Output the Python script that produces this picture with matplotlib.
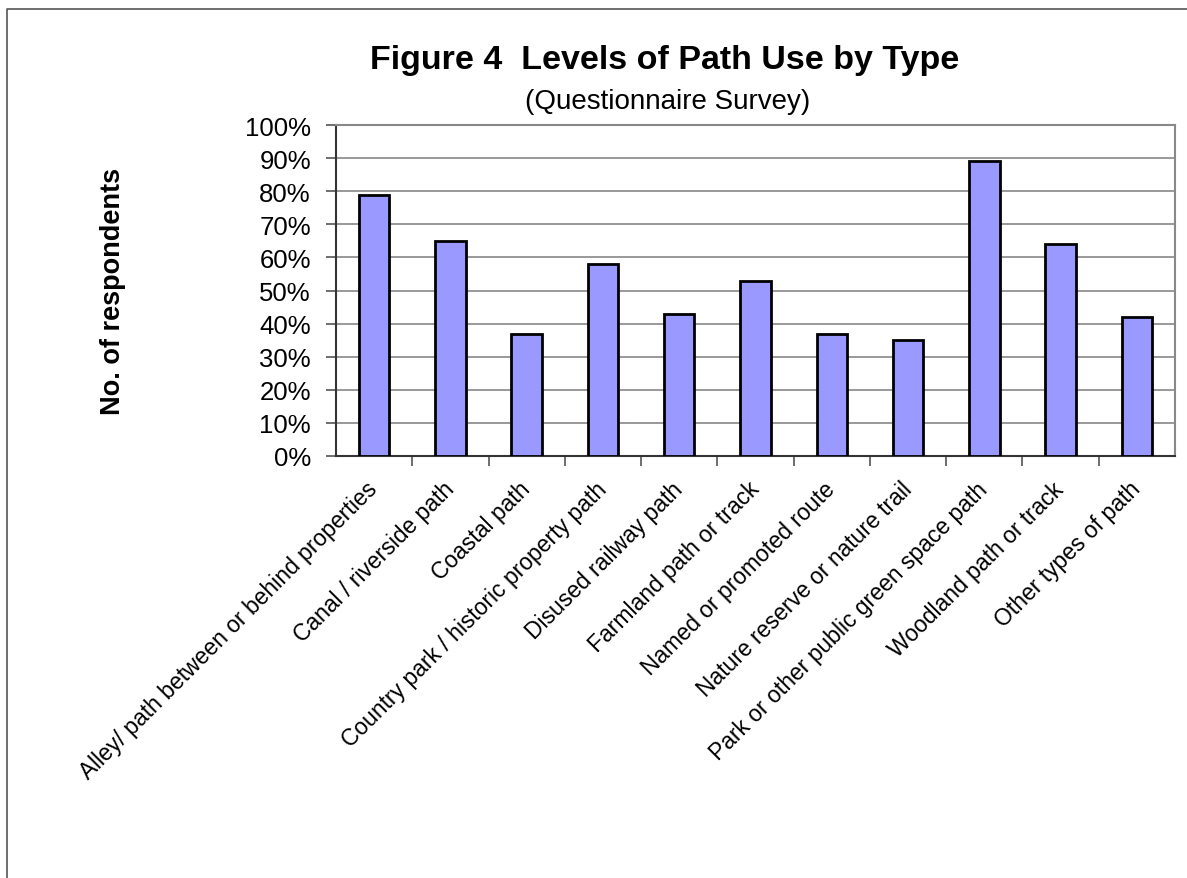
import matplotlib
matplotlib.use("Agg")
import matplotlib.pyplot as plt
from matplotlib.lines import Line2D

plt.rcParams['font.family'] = ['Liberation Sans', 'DejaVu Sans']

path_types = [
    "Alley/ path between or behind properties",
    "Canal / riverside path",
    "Coastal path",
    "Country park / historic property path",
    "Disused railway path",
    "Farmland path or track",
    "Named or promoted route",
    "Nature reserve or nature trail",
    "Park or other public green space path",
    "Woodland path or track",
    "Other types of path",
]
use_pct = [79, 65, 37, 58, 43, 53, 37, 35, 89, 64, 42]
y_ticks = list(range(0, 101, 10))
y_tick_labels = [f"{v}%" for v in y_ticks]

W, H = 1187, 879
fig = plt.figure(figsize=(W / 100, H / 100), dpi=100)
ax = fig.add_axes([336 / W, 1 - 457 / H, (1175 - 336) / W, (457 - 126) / H])

x = range(len(path_types))
ax.bar(x, use_pct, width=0.4, color="#9999ff", edgecolor="black", linewidth=2, zorder=3)

ax.set_xlim(-0.5, len(path_types) - 0.5)
ax.set_ylim(0, 100)
ax.set_yticks(y_ticks)
ax.set_yticklabels(y_tick_labels, fontsize=18.5)
ax.yaxis.grid(True, color="#888888", linewidth=1.2, zorder=0)

# tick marks sit between the categories, labels at the bar centres
ax.set_xticks([i + 0.5 for i in range(len(path_types) - 1)])
ax.set_xticklabels([])
ax.set_xticks(list(x), minor=True)
ax.set_xticklabels(path_types, minor=True, rotation=45, ha="right", va="center",
                   rotation_mode="anchor", fontsize=16.5)
ax.tick_params(axis="x", which="minor", length=0, pad=21)
ax.tick_params(axis="x", which="major", length=7, width=1.2, color="#555555")
ax.tick_params(axis="y", length=7, width=1.2, color="#555555", pad=11)

for side in ["top", "right"]:
    ax.spines[side].set_color("#888888")
    ax.spines[side].set_linewidth(1.5)
for side in ["left", "bottom"]:
    ax.spines[side].set_color("#333333")
    ax.spines[side].set_linewidth(1.5)

ax.set_ylabel("No. of respondents", fontsize=19.5, fontweight="bold")
ax.yaxis.set_label_coords((126 - 336) / (1175 - 336), 0.5)

fig.text(665 / W, 1 - 61 / H, "Figure 4  Levels of Path Use by Type",
         ha="center", va="center", fontsize=24.5, fontweight="bold")
fig.text(668 / W, 1 - 102 / H, "(Questionnaire Survey)",
         ha="center", va="center", fontsize=20)

# outer chart border
fig.add_artist(Line2D([7 / W, 7 / W, 1.0], [0.0, 1 - 10 / H, 1 - 10 / H],
                      transform=fig.transFigure, color="#555555", linewidth=1.2))

fig.savefig("out.png", dpi=100)
